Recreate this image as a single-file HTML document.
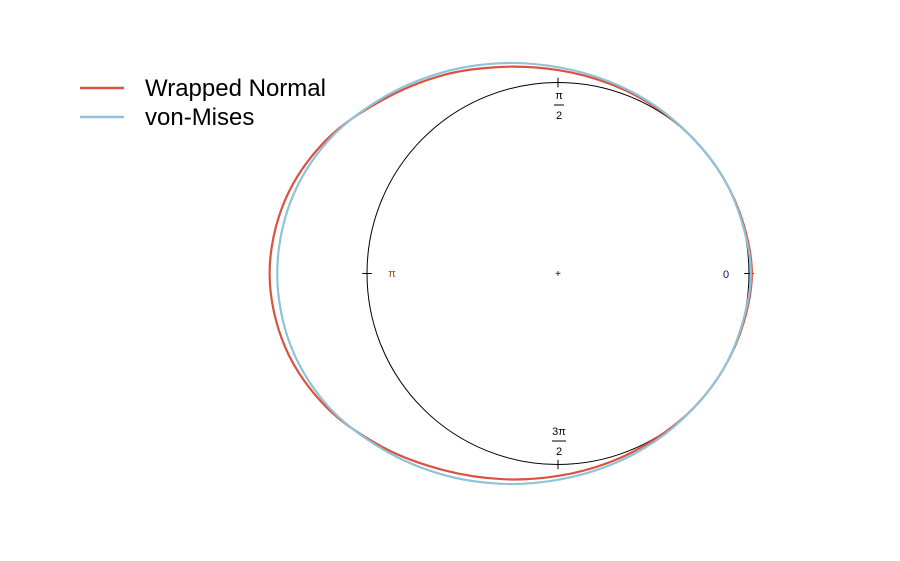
<!DOCTYPE html>
<html><head><meta charset="utf-8"><style>
html,body{margin:0;padding:0;background:#fff;}
svg{display:block;font-family:"Liberation Sans",sans-serif;}
</style></head><body>
<svg id="chart" width="900" height="561">
<g id="axes"></g>
<g id="series"></g>
<g>
<line x1="80" y1="88" x2="124" y2="88" stroke="#d9533f" stroke-width="2.5"/>
<text x="145" y="96" font-size="24" fill="#000">Wrapped Normal</text>
<line x1="80" y1="117" x2="124" y2="117" stroke="#8fc3d9" stroke-width="2.5"/>
<text x="145" y="125" font-size="24" fill="#000">von-Mises</text>
</g>
</svg>
<script>
const anglesDeg = [0,15,30,45,60,75,90,105,120,135,150,165,180,195,210,225,240,255,270,285,300,315,330,345];
const wrappedNormal = [1.015,1.005,1.0,1.0,1.01,1.03,1.065,1.12,1.20,1.29,1.40,1.48,1.51,1.48,1.40,1.29,1.19,1.115,1.06,1.025,1.005,1.0,1.0,1.005];
const vonMises = [1.01,1.0,1.0,1.0,1.015,1.04,1.08,1.14,1.215,1.30,1.39,1.45,1.47,1.45,1.39,1.30,1.215,1.14,1.08,1.04,1.015,1.0,1.0,1.0];
const tickAngles = [0,90,180,270];
const cx=558, cy=273.5, R=191;
const ns="http://www.w3.org/2000/svg";
function px(a,r){return cx+Math.cos(a*Math.PI/180)*r*R;}
function py(a,r){return cy-Math.sin(a*Math.PI/180)*r*R;}
const axes=document.getElementById('axes');
const c=document.createElementNS(ns,'circle');


c.setAttribute('cx',cx);c.setAttribute('cy',cy);c.setAttribute('r',R);
c.setAttribute('fill','none');c.setAttribute('stroke','#000');c.setAttribute('stroke-width','1');
axes.appendChild(c);
tickAngles.forEach(a=>{
  const l=document.createElementNS(ns,'line');
  
  
  l.setAttribute('x1',px(a,0.975));l.setAttribute('y1',py(a,0.975));
  l.setAttribute('x2',px(a,1.025));l.setAttribute('y2',py(a,1.025));
  l.setAttribute('stroke','#000');axes.appendChild(l);
});
axes.insertAdjacentHTML('beforeend',
 '<text x="558" y="277" font-size="10" text-anchor="middle">+</text>'+
 '<text x="726" y="278" font-size="11" text-anchor="middle" fill="#1a0a50">0</text>'+
 '<text x="392" y="277" font-size="11" text-anchor="middle" fill="#a05000">π</text>'+
 '<g><text x="559" y="99" font-size="11" text-anchor="middle">π</text><line x1="554" y1="105" x2="564" y2="105" stroke="#000"/><text x="559" y="119" font-size="11" text-anchor="middle">2</text></g>'+
 '<g><text x="559" y="435" font-size="11" text-anchor="middle">3π</text><line x1="552" y1="441" x2="566" y2="441" stroke="#000"/><text x="559" y="455" font-size="11" text-anchor="middle">2</text></g>');
function pathFor(vals){
  const n=anglesDeg.length, pts=anglesDeg.map((a,i)=>[px(a,vals[i]),py(a,vals[i])]);
  let d='M'+pts[0][0]+','+pts[0][1];
  for(let i=0;i<n;i++){
    const p0=pts[(i-1+n)%n],p1=pts[i],p2=pts[(i+1)%n],p3=pts[(i+2)%n];
    d+=' C'+(p1[0]+(p2[0]-p0[0])/6)+','+(p1[1]+(p2[1]-p0[1])/6)+' '+(p2[0]-(p3[0]-p1[0])/6)+','+(p2[1]-(p3[1]-p1[1])/6)+' '+p2[0]+','+p2[1];
  }
  return d+'Z';
}
const s=document.getElementById('series');
[[wrappedNormal,'#d9533f','wrapped-normal-curve'],[vonMises,'#8fc3d9','von-mises-curve']].forEach(([v,col,name])=>{
  const p=document.createElementNS(ns,'path');
  
  
  p.setAttribute('d',pathFor(v));p.setAttribute('fill','none');
  p.setAttribute('stroke',col);p.setAttribute('stroke-width','2.2');
  s.appendChild(p);
});
</script>
</body></html>
